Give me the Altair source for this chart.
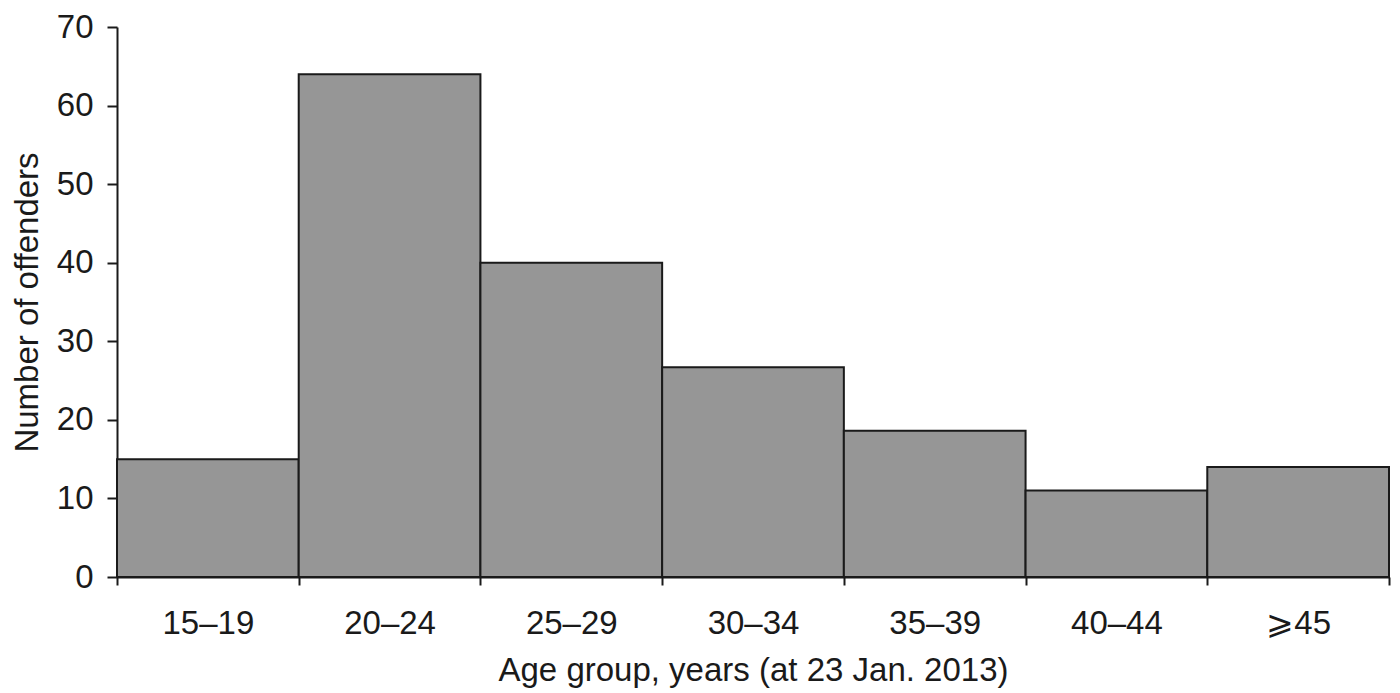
import altair as alt
import pandas as pd

groups = ["15–19", "20–24", "25–29", "30–34", "35–39", "40–44", "⩾45"]
counts = [15, 64, 40, 26.7, 18.6, 11, 14]
y_ticks = [0, 10, 20, 30, 40, 50, 60, 70]

df = pd.DataFrame({"group": groups, "count": counts})

FONT = "Liberation Sans"

chart = alt.Chart(df).mark_bar(
    color="#969696", stroke="#1a1a1a", strokeWidth=2
).encode(
    x=alt.X(
        "group:N",
        sort=groups,
        scale=alt.Scale(paddingInner=0, paddingOuter=0),
        axis=alt.Axis(
            title="Age group, years (at 23 Jan. 2013)",
            labelAngle=0,
            tickBand="extent",
            tickSize=8,
            tickWidth=2,
            tickColor="#1a1a1a",
            domainColor="#1a1a1a",
            domainWidth=2,
            labelFont=FONT,
            labelFontSize=33,
            labelColor="#1a1a1a",
            labelPadding=22,
            titleFont=FONT,
            titleFontSize=33,
            titleFontWeight="normal",
            titleColor="#1a1a1a",
            titlePadding=14,
        ),
    ),
    y=alt.Y(
        "count:Q",
        scale=alt.Scale(domain=[0, 70], nice=False),
        axis=alt.Axis(
            title="Number of offenders",
            values=y_ticks,
            grid=False,
            tickSize=10,
            tickWidth=2,
            tickColor="#1a1a1a",
            domainColor="#1a1a1a",
            domainWidth=2,
            labelFont=FONT,
            labelFontSize=33,
            labelColor="#1a1a1a",
            labelPadding=14,
            titleFont=FONT,
            titleFontSize=33,
            titleFontWeight="normal",
            titleColor="#1a1a1a",
            titlePadding=12,
        ),
    ),
).properties(
    width=1272,
    height=550,
    autosize=alt.AutoSizeParams(type="none"),
    padding={"left": 109, "top": 19, "right": 3, "bottom": 114},
).configure_view(stroke=None)

chart.save("out.html", embed_options={"renderer": "svg", "actions": False})
